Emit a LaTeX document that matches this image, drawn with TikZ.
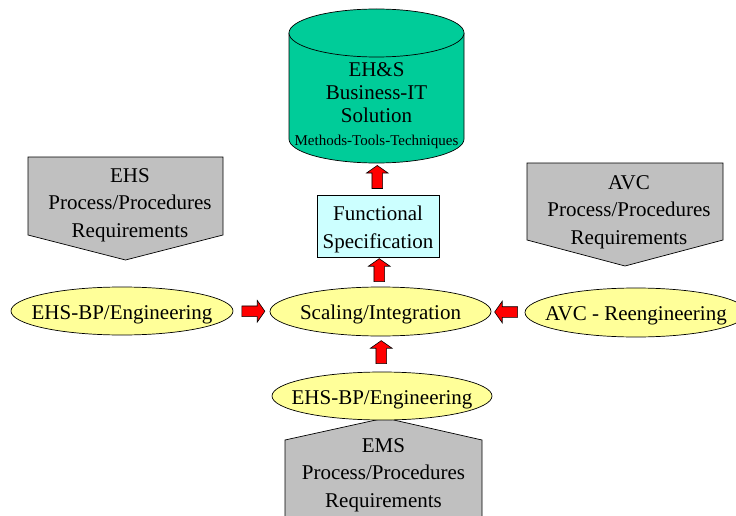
\documentclass[tikz,border=0pt]{standalone}
\usepackage{fontspec}
\setmainfont{Liberation Serif}
\usetikzlibrary{shapes.geometric,shapes.arrows}
\definecolor{cylgreen}{HTML}{00CC99}
\definecolor{ovalyellow}{HTML}{FFFF99}
\definecolor{specblue}{HTML}{CCFFFF}
\definecolor{reqgray}{HTML}{C0C0C0}
\begin{document}
\begin{tikzpicture}[x=1pt,y=-1pt,line width=0.7pt,
  big/.style={font=\fontsize{21}{27.5}\selectfont},
  oval/.style={ellipse,draw,fill=ovalyellow,inner sep=0pt,
    minimum width=221pt,minimum height=48pt,
    text height=16pt,text depth=0pt,font=\fontsize{21}{25}\selectfont},
  barrow/.style={single arrow,draw=black,fill=red,line width=0.6pt,
    inner xsep=0pt,inner ysep=5pt,minimum height=23pt,
    single arrow head extend=5.5pt,single arrow tip angle=110},
  req/.style={draw,fill=reqgray}]
\useasboundingbox (0,0) rectangle (736,516);

% database cylinder
\fill[cylgreen] (289,33) -- (289,139)
  arc[start angle=180,end angle=360,x radius=87.5pt,y radius=24pt]
  -- (464,33) -- cycle;
\draw (289,33) -- (289,139)
  arc[start angle=180,end angle=360,x radius=87.5pt,y radius=24pt]
  -- (464,33);
\draw[fill=cylgreen] (376.5,33) ellipse[x radius=87.5pt,y radius=24pt];
\node[align=center,inner sep=0pt,anchor=base,font=\fontsize{21}{23}\selectfont]
  (cyl) at (376.5,146)
  {EH\&S\\Business-IT\\Solution\\{\fontsize{15}{23}\selectfont Methods-Tools-Techniques}};
\coordinate (cylbase) at (376.5,163);

% functional specification
\node[draw,fill=specblue,minimum width=122pt,minimum height=62pt,inner sep=0pt]
  (spec) at (378,226) {};
\node[big,align=center,inner sep=0pt,anchor=base] (spectext) at (378,248)
  {Functional\\Specification};

% requirement tags
\draw[req] (28,157) -- (223,157) -- (223,235) -- (125.5,260) -- (28,235) -- cycle;
\node[big,align=center,inner sep=0pt,anchor=base] (ehsreq) at (130,237)
  {EHS\\Process/Procedures\\Requirements};
\draw[req] (527,163) -- (723,163) -- (723,240) -- (625,266) -- (527,240) -- cycle;
\node[big,align=center,inner sep=0pt,anchor=base] (avcreq) at (629,244)
  {AVC\\Process/Procedures\\Requirements};
\draw[req] (285,540) -- (285,440) -- (385,418) -- (482,440) -- (482,540) -- cycle;
\node[big,align=center,inner sep=0pt,anchor=base] (emsreq) at (383.5,507)
  {EMS\\Process/Procedures\\Requirements};

% process ovals
\node[oval,minimum width=222pt] (ehsbp) at (122,311) {\makebox[0pt]{EHS-BP/Engineering}};
\node[oval,minimum height=49pt] (scal) at (380.5,311.5) {\makebox[0pt]{Scaling/Integration}};
\node[oval,minimum width=222pt,minimum height=49pt] (avc) at (636,312.5)
  {\makebox[0pt]{AVC - Reengineering}};
\node[oval,minimum width=220pt] (emsbp) at (382,396) {\makebox[0pt]{EHS-BP/Engineering}};

% flow arrows
\path (spec.north) -- node[barrow,rotate=90] (a1) {} (cylbase);
\path (scal.north) -- node[barrow,rotate=90] (a2) {} (spec.south);
\path (emsbp.north) -- node[barrow,rotate=90] (a3) {} (scal.south);
\path (ehsbp.east) -- node[barrow] (a4) {} (scal.west);
\path (avc.west) -- node[barrow,rotate=180] (a5) {} (scal.east);
\end{tikzpicture}
\end{document}
